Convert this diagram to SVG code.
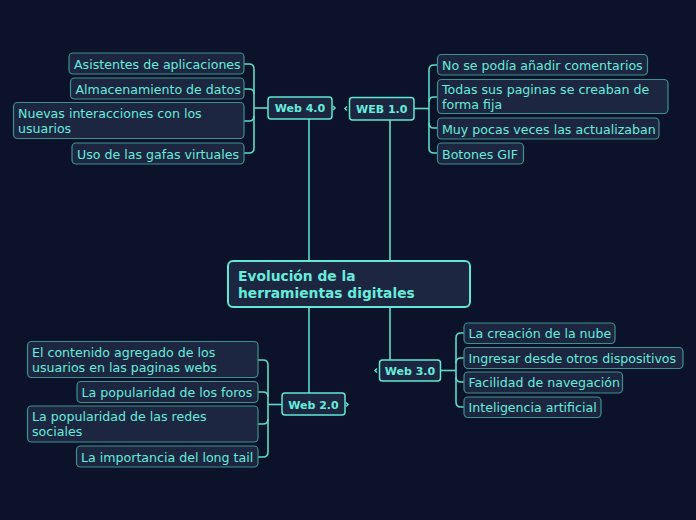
<svg xmlns="http://www.w3.org/2000/svg" width="696" height="520" viewBox="0 0 696 520">
<style>
.bg{fill:#0b1229}
.main rect{fill:#1d2641;stroke:#62e6d6;stroke-width:2}
.topic rect{fill:#1d2641;stroke:#62e6d6;stroke-width:1.5}
.sub rect{fill:#1d2641;stroke:#3f8f8f;stroke-width:1.2}
text{font-family:"DejaVu Sans","Verdana",sans-serif;fill:#66ecdc}
.main text{font-size:13.8px;font-weight:bold}
.topic text{font-size:11px;font-weight:bold;text-anchor:middle}
.sub text{font-size:12.6px}
#connectors path{fill:none;stroke:#5edacb;stroke-width:1.6}
</style>
<rect class="bg" x="0" y="0" width="696" height="520"/>
<g id="connectors">
<path d="M309,119 V261 M309,307 V393"/>
<path d="M390,120 V261 M390,307 V360"/>
<path d="M268,108 H254"/>
<path d="M244,64 H249 Q254,64 254,69 V148 Q254,153 249,153 H244"/>
<path d="M244,89 H249 Q254,89 254,94"/>
<path d="M244,121 H249 Q254,121 254,116"/>
<path d="M333,106 L335,108 L333,110"/>
<path d="M414,108.5 H429"/>
<path d="M437,65 H434 Q429,65 429,70 V148 Q429,153 434,153 H437"/>
<path d="M437,97 H434 Q429,97 429,102"/>
<path d="M437,128 H434 Q429,128 429,123"/>
<path d="M347,106.5 L345,108.5 L347,110.5"/>
<path d="M441,370.5 H456"/>
<path d="M464,333 H461 Q456,333 456,338 V402 Q456,407 461,407 H464"/>
<path d="M464,358 H461 Q456,358 456,363"/>
<path d="M464,382 H461 Q456,382 456,377"/>
<path d="M377,368.5 L375,370.5 L377,372.5"/>
<path d="M282,404.5 H268"/>
<path d="M258,360 H263 Q268,360 268,365 V452 Q268,457 263,457 H258"/>
<path d="M258,392 H263 Q268,392 268,397"/>
<path d="M258,424 H263 Q268,424 268,419"/>
<path d="M346,402.5 L348,404.5 L346,406.5"/>
</g>
<g id="main" class="main">
<rect x="228" y="261" width="242" height="46" rx="5"/>
<text x="238" y="280.5">Evolución de la</text>
<text x="238" y="297.5">herramientas digitales</text>
</g>
<g id="web40" class="topic">
<rect x="268" y="97" width="64" height="22" rx="3"/>
<text x="300" y="112">Web 4.0</text>
</g>
<g id="web10" class="topic">
<rect x="349.5" y="97.5" width="64.5" height="22.5" rx="3"/>
<text x="381.8" y="113">WEB 1.0</text>
</g>
<g id="web30" class="topic">
<rect x="379.5" y="360" width="61" height="21" rx="3"/>
<text x="410" y="374.5">Web 3.0</text>
</g>
<g id="web20" class="topic">
<rect x="282" y="393" width="63" height="22" rx="3"/>
<text x="313.5" y="408.5">Web 2.0</text>
</g>
<g id="w4a" class="sub"><rect x="69" y="53" width="175" height="21" rx="4"/><text x="74" y="68.5">Asistentes de aplicaciones</text></g>
<g id="w4b" class="sub"><rect x="70.5" y="78" width="173.5" height="21" rx="4"/><text x="75.5" y="93.5">Almacenamiento de datos</text></g>
<g id="w4c" class="sub"><rect x="13.5" y="102.5" width="230.5" height="36" rx="4"/><text x="18" y="117.5">Nuevas interacciones con los</text><text x="18" y="132.5">usuarios</text></g>
<g id="w4d" class="sub"><rect x="72" y="143" width="172" height="21" rx="4"/><text x="77" y="158.5">Uso de las gafas virtuales</text></g>
<g id="w1a" class="sub"><rect x="437.5" y="54.5" width="210" height="20.5" rx="4"/><text x="442" y="69.5">No se podía añadir comentarios</text></g>
<g id="w1b" class="sub"><rect x="437.5" y="79.5" width="230.5" height="34" rx="4"/><text x="442" y="93.5">Todas sus paginas se creaban de</text><text x="442" y="108.5">forma fija</text></g>
<g id="w1c" class="sub"><rect x="437.5" y="118" width="221.5" height="21" rx="4"/><text x="442" y="133.5">Muy pocas veces las actualizaban</text></g>
<g id="w1d" class="sub"><rect x="437.5" y="143" width="86" height="21" rx="4"/><text x="442" y="158.5">Botones GIF</text></g>
<g id="w3a" class="sub"><rect x="464" y="323" width="151" height="20.5" rx="4"/><text x="468.5" y="338">La creación de la nube</text></g>
<g id="w3b" class="sub"><rect x="464" y="347.5" width="219" height="21" rx="4"/><text x="468.5" y="362.5">Ingresar desde otros dispositivos</text></g>
<g id="w3c" class="sub"><rect x="464" y="372" width="158.5" height="21" rx="4"/><text x="468.5" y="387">Facilidad de navegación</text></g>
<g id="w3d" class="sub"><rect x="464" y="397" width="137" height="20.5" rx="4"/><text x="468.5" y="412">Inteligencia artificial</text></g>
<g id="w2a" class="sub"><rect x="27.5" y="341.5" width="230.5" height="36" rx="4"/><text x="32" y="356.5">El contenido agregado de los</text><text x="32" y="371.5">usuarios en las paginas webs</text></g>
<g id="w2b" class="sub"><rect x="77" y="381.5" width="181" height="21" rx="4"/><text x="81.5" y="397">La popularidad de los foros</text></g>
<g id="w2c" class="sub"><rect x="27.5" y="406" width="230.5" height="36" rx="4"/><text x="32" y="421">La popularidad de las redes</text><text x="32" y="436">sociales</text></g>
<g id="w2d" class="sub"><rect x="76.5" y="446" width="181.5" height="21" rx="4"/><text x="81" y="462">La importancia del long tail</text></g>
</svg>
